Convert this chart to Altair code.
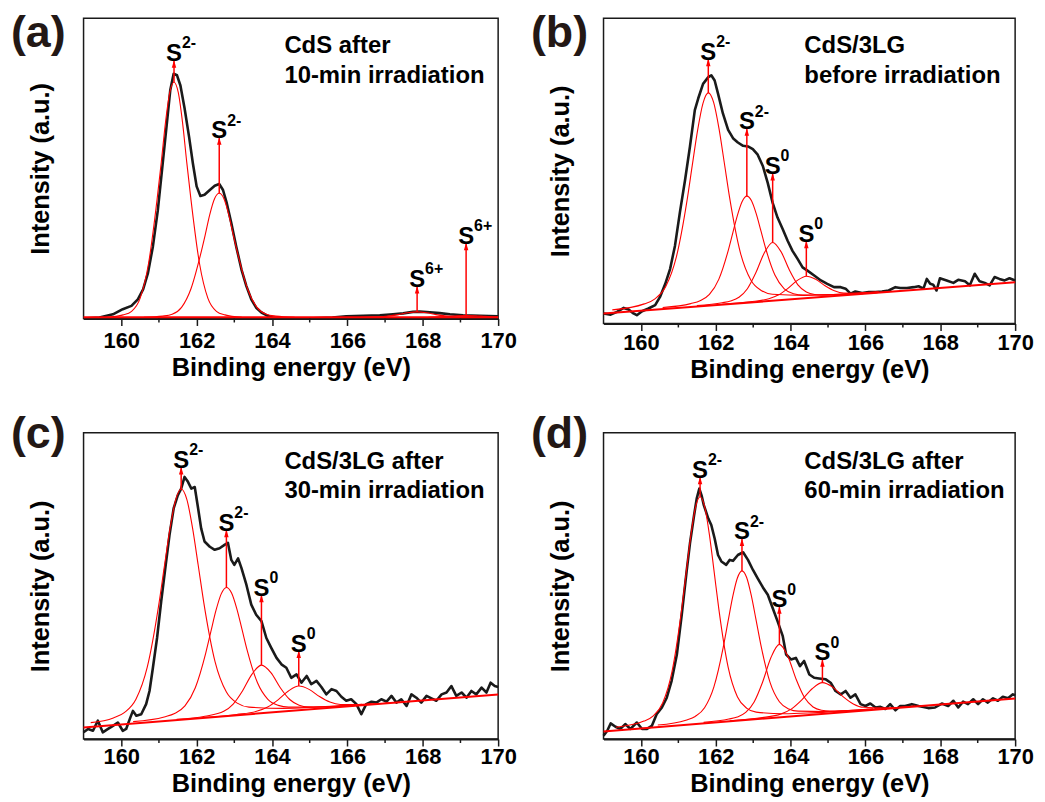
import altair as alt
import pandas as pd

FONT = "Liberation Sans"
RED = "#ff0000"
INK = "#1a1a1a"
TAGC = "#231815"

x_domain = [159, 170]
x_major = [160, 162, 164, 166, 168, 170]
x_minor = [161, 163, 165, 167, 169]

# ---------------- panel (a) ----------------
a_meas_x = [159.0, 159.42, 159.78, 160.04, 160.27, 160.44, 160.58, 160.71, 160.84, 160.97, 161.1, 161.21, 161.3,
            161.39, 161.48, 161.57, 161.68, 161.8, 161.9, 162.0, 162.1, 162.21, 162.35, 162.48, 162.6, 162.7, 162.8,
            162.92, 163.05, 163.19, 163.32, 163.45, 163.58, 163.72, 163.85, 164.03, 164.2, 165.09, 165.6, 165.97,
            166.42, 166.86, 167.21, 167.48, 167.74, 167.92, 168.19, 168.45, 168.72, 169.07, 169.51, 170.0]
a_meas_y = [0.0, 0.3, 1.4, 3.1, 4.2, 6.4, 9.7, 15.2, 24.0, 36.0, 51.7, 65.0, 76.0, 81.5, 81.0, 77.6, 70.0, 60.5, 51.7,
            44.0, 40.8, 41.2, 42.8, 44.2, 44.8, 42.8, 38.4, 31.8, 24.0, 16.3, 10.8, 6.4, 3.6, 2.0, 1.1, 0.3, 0.1, 0.1,
            0.3, 0.7, 0.9, 1.1, 1.4, 1.7, 2.2, 2.3, 2.1, 1.8, 1.4, 1.1, 0.9, 0.7]
a_p1_x = [159.60, 160.05, 160.275, 160.50, 160.725, 160.95, 161.0625, 161.175, 161.2875, 161.40, 161.5125, 161.625,
          161.7375, 161.85, 162.075, 162.30, 162.525, 162.75, 163.20]
a_p1_y = [0.4, 1.2, 2.4, 6.7, 18.4, 39.6, 52.1, 65.4, 75.3, 78.7, 75.3, 65.4, 52.1, 39.6, 18.4, 6.7, 2.4, 1.2, 0.4]
a_p2_x = [160.60, 161.10, 161.35, 161.60, 161.85, 162.10, 162.225, 162.35, 162.475, 162.60, 162.725, 162.85, 162.975,
          163.10, 163.35, 163.60, 163.85, 164.10, 164.60]
a_p2_y = [0.4, 0.8, 1.4, 3.7, 9.9, 21.1, 27.7, 34.7, 39.9, 41.7, 39.9, 34.7, 27.7, 21.1, 9.9, 3.7, 1.4, 0.8, 0.4]
a_p3_x = [166.35, 166.85, 167.35, 167.6, 167.85, 168.1, 168.35, 168.85, 169.35]
a_p3_y = [0.42, 0.55, 1.3, 1.9, 2.2, 1.9, 1.3, 0.55, 0.42]
a_p4_x = [168.15, 168.65, 168.9, 169.15, 169.4, 169.65, 170.0]
a_p4_y = [0.4, 0.7, 0.9, 1.0, 0.9, 0.7, 0.45]
a_base_x = [159.0, 170.0]
a_base_y = [0.4, 0.4]
a_arrow_x = [161.40, 162.60, 167.85, 169.15]
a_arrow_from = [78.7, 41.7, 2.2, 1.0]
a_arrow_tip = [86.0, 60.3, 10.8, 25.2]
a_arrow_sup = ["2-", "2-", "6+", "6+"]
a_note = ["CdS after", "10-min irradiation"]

# ---------------- panel (b) ----------------
b_meas_x = [159.0, 159.19, 159.36, 159.54, 159.67, 159.8, 159.89, 160.03, 160.2, 160.38, 160.51, 160.65, 160.78,
            160.91, 161.04, 161.18, 161.31, 161.44, 161.53, 161.66, 161.8, 161.88, 161.97, 162.06, 162.19, 162.33,
            162.46, 162.59, 162.73, 162.86, 162.99, 163.12, 163.26, 163.39, 163.52, 163.65, 163.79, 163.92, 164.05,
            164.19, 164.32, 164.45, 164.63, 164.81, 164.98, 165.16, 165.34, 165.47, 165.6, 165.73, 165.91, 166.09,
            166.27, 166.44, 166.62, 166.8, 166.93, 167.11, 167.29, 167.42, 167.55, 167.64, 167.73, 167.81, 167.9,
            167.99, 168.17, 168.35, 168.48, 168.66, 168.79, 168.92, 169.05, 169.19, 169.32, 169.45, 169.58, 169.72,
            169.85, 170.0]
b_meas_y = [3.3, 2.9, 3.8, 5.1, 4.6, 3.3, 2.7, 4.0, 4.9, 6.0, 8.7, 13.0, 17.9, 25.5, 36.3, 47.1, 58.0, 69.9, 73.7,
            78.5, 80.7, 81.3, 79.6, 75.3, 68.8, 63.4, 60.7, 59.3, 58.2, 58.0, 57.1, 55.3, 51.5, 46.0, 39.5, 34.7, 30.9,
            27.1, 23.8, 21.1, 18.4, 17.3, 15.7, 14.1, 13.0, 11.9, 11.9, 11.4, 9.8, 10.5, 10.0, 10.3, 10.3, 10.5, 10.8,
            11.9, 11.6, 11.6, 11.9, 12.2, 11.4, 14.6, 13.0, 12.7, 10.8, 14.8, 14.1, 13.3, 14.3, 13.8, 12.5, 16.3, 13.8,
            13.3, 12.5, 15.2, 14.6, 14.1, 14.8, 14.1]
b_p1_x = [159.235, 160.09, 160.375, 160.66, 160.945, 161.23, 161.3725, 161.515, 161.6575, 161.80, 161.9425, 162.085,
          162.2275, 162.37, 162.655, 162.94, 163.225, 163.51, 164.365, 165.22, 166.36]
b_p1_y = [4.45, 6.42, 8.08, 12.04, 21.72, 40.17, 51.88, 63.37, 72.14, 75.55, 72.41, 63.90, 52.67, 41.23, 23.31, 14.16,
          10.73, 9.60, 9.22, 9.59, 10.35]
b_p2_x = [160.58, 161.33, 161.58, 161.83, 162.08, 162.33, 162.455, 162.58, 162.705, 162.83, 162.955, 163.08, 163.205,
          163.33, 163.58, 163.83, 164.08, 164.33, 165.08, 166.33]
b_p2_y = [5.21, 6.50, 7.43, 9.51, 14.45, 23.80, 29.70, 35.51, 39.96, 41.71, 40.19, 35.97, 30.40, 24.73, 15.85, 11.37,
          9.75, 9.29, 9.39, 10.30]
b_p3_x = [161.495, 162.17, 162.395, 162.62, 162.845, 163.07, 163.295, 163.52, 163.745, 163.97, 164.195, 164.42,
          164.645, 164.87, 165.545, 166.22]
b_p3_y = [5.84, 6.79, 7.38, 8.61, 11.39, 16.59, 23.07, 26.55, 23.49, 17.42, 12.64, 10.28, 9.47, 9.30, 9.61, 10.11]
b_p4_x = [162.17, 162.92, 163.42, 163.67, 163.92, 164.17, 164.42, 164.67, 164.92, 165.17, 165.42, 165.92, 166.67]
b_p4_y = [6.30, 7.12, 8.11, 9.31, 11.43, 14.03, 15.49, 14.49, 12.36, 10.71, 9.97, 9.91, 10.48]
b_base_x = [159.0, 170.0]
b_base_y = [3.25, 13.48]
b_arrow_x = [161.80, 162.83, 163.52, 164.42]
b_arrow_from = [75.5, 41.7, 26.5, 15.5]
b_arrow_tip = [86.7, 63.9, 49.3, 27.1]
b_arrow_sup = ["2-", "2-", "0", "0"]
b_note = ["CdS/3LG", "before irradiation"]

# ---------------- panel (c) ----------------
c_meas_x = [159.0, 159.12, 159.25, 159.38, 159.51, 159.65, 159.78, 159.91, 160.04, 160.13,
            160.24, 160.31, 160.4, 160.53, 160.66, 160.75, 160.84, 160.95, 161.06, 161.18,
            161.28, 161.39, 161.5, 161.59, 161.68, 161.77, 161.86, 161.95, 162.04, 162.12,
            162.21, 162.35, 162.48, 162.61, 162.74, 162.83, 162.92, 163.0, 163.1, 163.19,
            163.32, 163.45, 163.58, 163.72, 163.85, 163.98, 164.12, 164.25, 164.38, 164.51,
            164.65, 164.78, 164.92, 165.04, 165.18, 165.31, 165.44, 165.58, 165.71, 165.84,
            165.97, 166.1, 166.24, 166.37, 166.5, 166.64, 166.77, 166.9, 167.04, 167.17,
            167.3, 167.43, 167.57, 167.7, 167.83, 167.96, 168.1, 168.23, 168.36, 168.5,
            168.63, 168.76, 168.89, 169.03, 169.16, 169.29, 169.42, 169.56, 169.69, 169.8,
            169.91, 170.0]
c_meas_y = [2.2, 3.3, 2.7, 6.0, 2.2, 3.3, 4.3, 5.4, 2.7, 3.3,
            7.0, 9.2, 7.6, 8.1, 11.4, 15.7, 23.3, 33.0, 45.0, 56.9,
            66.6, 75.3, 79.6, 81.8, 85.6, 84.0, 81.8, 82.3, 75.3, 68.8,
            64.5, 62.8, 61.8, 62.3, 63.4, 64.1, 58.5, 56.9, 59.0, 55.8,
            50.4, 43.9, 40.6, 38.5, 33.0, 29.8, 26.5, 24.4, 23.3, 20.0,
            21.1, 18.4, 20.6, 17.9, 19.0, 17.0, 14.6, 16.3, 15.7, 13.8,
            12.5, 13.0, 11.4, 8.1, 11.4, 12.2, 11.9, 13.0, 12.2, 14.1,
            11.9, 13.0, 10.8, 14.6, 13.5, 11.9, 14.1, 13.3, 12.5, 14.6,
            15.2, 17.3, 14.1, 15.2, 13.5, 15.7, 14.6, 16.8, 15.2, 18.4,
            17.3, 17.0]
c_p1_x = [159.19, 159.79, 160.09, 160.39, 160.69, 160.99, 161.14, 161.29, 161.44, 161.59, 161.74, 161.89, 162.04,
          162.19, 162.49, 162.79, 163.09, 163.39, 164.29, 165.19, 166.39]
c_p1_y = [5.35, 6.90, 8.71, 12.99, 23.46, 43.40, 56.05, 68.46, 77.95, 81.64, 78.25, 69.05, 56.93, 44.58, 25.22, 15.34,
          11.65, 10.43, 10.03, 10.47, 11.34]
c_p2_x = [160.315, 161.14, 161.415, 161.69, 161.965, 162.24, 162.3775, 162.515, 162.6525, 162.79, 162.9275, 163.065,
          163.2025, 163.34, 163.615, 163.89, 164.165, 164.44, 165.265, 166.64]
c_p2_y = [5.68, 7.20, 8.31, 10.81, 16.75, 27.98, 35.08, 42.07, 47.41, 49.51, 47.68, 42.60, 35.89, 29.05, 18.36, 12.96,
          11.00, 10.43, 10.53, 11.59]
c_p3_x = [161.47, 162.22, 162.72, 162.97, 163.22, 163.47, 163.72, 163.97, 164.22, 164.47, 164.72, 164.97, 165.22,
          165.97, 166.72]
c_p3_y = [6.44, 7.45, 9.08, 11.44, 15.79, 21.20, 24.13, 21.69, 16.77, 12.91, 11.04, 10.45, 10.39, 10.85, 11.50]
c_p4_x = [162.235, 163.06, 163.61, 163.885, 164.16, 164.435, 164.71, 164.985, 165.26, 165.535, 165.81, 166.36, 167.185]
c_p4_y = [7.08, 8.02, 9.14, 10.48, 12.81, 15.68, 17.30, 16.22, 13.88, 12.09, 11.29, 11.25, 11.93]
c_base_x = [159.0, 170.0]
c_base_y = [3.8, 14.58]
c_arrow_x = [161.59, 162.79, 163.72, 164.71]
c_arrow_from = [81.6, 49.5, 24.2, 17.3]
c_arrow_tip = [88.8, 68.3, 47.1, 28.9]
c_arrow_sup = ["2-", "2-", "0", "0"]
c_note = ["CdS/3LG after", "30-min irradiation"]

# ---------------- panel (d) ----------------
d_meas_x = [159.0, 159.1, 159.19, 159.32, 159.45, 159.58, 159.72, 159.89, 160.03, 160.16,
            160.29, 160.42, 160.56, 160.69, 160.82, 160.96, 161.09, 161.22, 161.31, 161.42,
            161.49, 161.56, 161.62, 161.68, 161.8, 161.88, 161.97, 162.06, 162.15, 162.28,
            162.37, 162.46, 162.59, 162.73, 162.86, 162.99, 163.12, 163.26, 163.39, 163.52,
            163.65, 163.79, 163.88, 164.01, 164.14, 164.25, 164.36, 164.5, 164.63, 164.76,
            164.94, 165.07, 165.2, 165.34, 165.47, 165.6, 165.73, 165.87, 166.0, 166.13,
            166.27, 166.4, 166.53, 166.66, 166.8, 166.93, 167.06, 167.24, 167.42, 167.55,
            167.68, 167.86, 168.04, 168.21, 168.35, 168.48, 168.61, 168.74, 168.88, 169.01,
            169.14, 169.27, 169.41, 169.54, 169.67, 169.81, 169.94, 170.0]
d_meas_y = [1.1, 2.7, 5.1, 4.0, 3.3, 4.9, 3.3, 5.4, 3.3, 3.3,
            4.3, 8.1, 10.3, 13.5, 19.0, 27.6, 40.6, 54.7, 63.9, 73.1,
            78.5, 81.8, 79.6, 76.4, 72.0, 69.9, 65.5, 60.1, 58.0, 56.9,
            58.5, 58.2, 60.1, 61.0, 58.5, 55.3, 52.5, 49.5, 47.1, 42.8,
            38.5, 33.6, 27.6, 26.0, 26.5, 23.8, 25.5, 21.1, 20.0, 19.8,
            19.5, 18.4, 15.7, 14.6, 15.7, 13.5, 14.6, 11.4, 10.8, 11.6,
            10.3, 10.5, 9.8, 11.4, 9.4, 10.8, 10.8, 11.4, 10.8, 10.5,
            10.1, 10.3, 11.6, 10.8, 12.5, 10.3, 12.2, 11.4, 13.0, 11.4,
            13.0, 11.9, 13.3, 12.5, 13.8, 13.3, 14.6, 14.3]
d_p1_x = [159.33, 160.08, 160.33, 160.58, 160.83, 161.08, 161.205, 161.33, 161.455, 161.58, 161.705, 161.83, 161.955,
          162.08, 162.33, 162.58, 162.83, 163.08, 163.83, 164.58, 166.08]
d_p1_y = [3.86, 5.86, 7.58, 11.76, 22.00, 41.59, 54.01, 66.21, 75.53, 79.13, 75.77, 66.70, 54.75, 42.57, 23.47, 13.72,
          10.03, 8.80, 8.27, 8.56, 9.69]
d_p2_x = [160.45, 161.20, 161.45, 161.70, 161.95, 162.20, 162.325, 162.45, 162.575, 162.70, 162.825, 162.95, 163.075,
          163.20, 163.45, 163.70, 163.95, 164.20, 164.95, 166.20]
d_p2_y = [4.60, 6.17, 7.39, 10.23, 17.05, 30.04, 38.26, 46.34, 52.51, 54.93, 52.76, 46.83, 38.99, 31.02, 18.52, 12.19,
          9.84, 9.11, 9.01, 9.86]
d_p3_x = [161.675, 162.35, 162.575, 162.80, 163.025, 163.25, 163.475, 163.70, 163.925, 164.15, 164.375, 164.60,
          164.825, 165.05, 165.725, 166.40]
d_p3_y = [5.45, 6.52, 7.21, 8.70, 12.13, 18.57, 26.62, 30.91, 27.06, 19.45, 13.46, 10.47, 9.42, 9.17, 9.42, 9.94]
d_p4_x = [162.375, 163.20, 163.75, 164.025, 164.30, 164.575, 164.85, 165.125, 165.40, 165.675, 165.95, 166.50, 167.325]
d_p4_y = [5.95, 6.94, 8.22, 9.86, 12.79, 16.42, 18.43, 16.96, 13.87, 11.48, 10.37, 10.17, 10.80]
d_base_x = [159.0, 170.0]
d_base_y = [2.5, 13.28]
d_arrow_x = [161.58, 162.70, 163.70, 164.85]
d_arrow_from = [79.1, 54.9, 30.9, 18.4]
d_arrow_tip = [85.6, 65.5, 43.3, 26.0]
d_arrow_sup = ["2-", "2-", "0", "0"]
d_note = ["CdS/3LG after", "60-min irradiation"]


def xy(xs, ys, **extra):
    if len(xs) != len(ys):
        raise ValueError("length mismatch %d vs %d" % (len(xs), len(ys)))
    df = pd.DataFrame({"x": xs, "y": ys})
    for k, v in extra.items():
        df[k] = v
    return df


def panel(tag, meas, comps, base, arrows, note, w, h, tag_y, note_y, lab_pad):
    xsc = alt.Scale(domain=x_domain, nice=False, zero=False)
    ysc = alt.Scale(domain=[0, 100], nice=False, zero=False)
    xax = alt.Axis(values=x_major, format="d", title="Binding energy (eV)", grid=False, labelPadding=lab_pad)
    yax = alt.Axis(title="Intensity (a.u.)", labels=False, ticks=False, domain=False, grid=False, titlePadding=30)
    X = alt.X("x:Q", scale=xsc, axis=xax)
    Y = alt.Y("y:Q", scale=ysc, axis=yax)
    YT = alt.Y("tip:Q", scale=ysc, axis=yax)

    meas_df = xy(*meas)
    comp_df = pd.concat([xy(cx, cy, comp="p%d" % i) for i, (cx, cy) in enumerate(comps)], ignore_index=True)
    base_df = xy(*base)
    ax, afrom, atip, asup = arrows
    arr_df = pd.DataFrame({"x": ax, "y": afrom, "tip": atip, "main": ["S"] * len(ax), "sup": asup})
    minor_df = pd.DataFrame({"x": x_minor})
    one = pd.DataFrame({"k": [0]})

    measured = alt.Chart(meas_df).mark_line(color=INK, strokeWidth=2.6, strokeJoin="round").encode(x=X, y=Y)
    comp_lines = alt.Chart(comp_df).mark_line(color=RED, strokeWidth=1.1, interpolate="monotone").encode(
        x=X, y=Y, detail="comp:N")
    baseline = alt.Chart(base_df).mark_line(color=RED, strokeWidth=2).encode(x=X, y=Y)
    stems = alt.Chart(arr_df).mark_rule(color=RED, strokeWidth=1.5).encode(
        x=X, y=Y, y2=alt.Y2("tip:Q"))
    heads = alt.Chart(arr_df).mark_point(
        shape="M0,-1L0.6,1L-0.6,1Z", filled=True, size=56, color=RED, opacity=1, strokeWidth=0, yOffset=3.7
    ).encode(x=X, y=YT)
    s_main = alt.Chart(arr_df).mark_text(
        font=FONT, fontSize=24, fontWeight="bold", color="black", align="center", baseline="alphabetic", dy=1
    ).encode(x=X, y=YT, text="main:N")
    s_sup = alt.Chart(arr_df).mark_text(
        font=FONT, fontSize=16, fontWeight="bold", color="black", align="left", baseline="alphabetic", dx=8, dy=-12
    ).encode(x=X, y=YT, text="sup:N")
    minor = alt.Chart(minor_df).mark_rule(color=INK, strokeWidth=1.5).encode(
        x=X, y=alt.value(h), y2=alt.value(h + 4))
    note1 = alt.Chart(one).mark_text(
        font=FONT, fontSize=24, fontWeight="bold", color="black", align="left", baseline="alphabetic"
    ).encode(x=alt.value(202), y=alt.value(note_y), text=alt.value(note[0]))
    note2 = alt.Chart(one).mark_text(
        font=FONT, fontSize=24, fontWeight="bold", color="black", align="left", baseline="alphabetic"
    ).encode(x=alt.value(202), y=alt.value(note_y + 30), text=alt.value(note[1]))
    tag_txt = alt.Chart(one).mark_text(
        font=FONT, fontSize=45, fontWeight="bold", color=TAGC, align="left", baseline="alphabetic"
    ).encode(x=alt.value(-73), y=alt.value(tag_y), text=alt.value(tag))

    return alt.layer(measured, comp_lines, baseline, stems, heads, minor, s_main, s_sup, note1, note2,
                     tag_txt).properties(width=w, height=h)


pa = panel("(a)", (a_meas_x, a_meas_y), [(a_p1_x, a_p1_y), (a_p2_x, a_p2_y), (a_p3_x, a_p3_y), (a_p4_x, a_p4_y)],
           (a_base_x, a_base_y), (a_arrow_x, a_arrow_from, a_arrow_tip, a_arrow_sup), a_note, 417, 302, 29, 35, 5)
pb = panel("(b)", (b_meas_x, b_meas_y), [(b_p1_x, b_p1_y), (b_p2_x, b_p2_y), (b_p3_x, b_p3_y), (b_p4_x, b_p4_y)],
           (b_base_x, b_base_y), (b_arrow_x, b_arrow_from, b_arrow_tip, b_arrow_sup), b_note, 414, 307, 29, 35, 2)
pc = panel("(c)", (c_meas_x, c_meas_y), [(c_p1_x, c_p1_y), (c_p2_x, c_p2_y), (c_p3_x, c_p3_y), (c_p4_x, c_p4_y)],
           (c_base_x, c_base_y), (c_arrow_x, c_arrow_from, c_arrow_tip, c_arrow_sup), c_note, 417, 308, 15, 36, 1)
pd_ = panel("(d)", (d_meas_x, d_meas_y), [(d_p1_x, d_p1_y), (d_p2_x, d_p2_y), (d_p3_x, d_p3_y), (d_p4_x, d_p4_y)],
            (d_base_x, d_base_y), (d_arrow_x, d_arrow_from, d_arrow_tip, d_arrow_sup), d_note, 414, 308, 15, 36, 1)

chart = alt.concat(
    pa, pb, pc, pd_, columns=2, spacing={"row": 110, "column": 106}, bounds="flush"
).properties(
    padding={"left": 2, "top": 0, "right": 2, "bottom": 0}, background="white"
).configure_view(
    stroke=INK, strokeWidth=1.5
).configure_axis(
    labelFont=FONT, titleFont=FONT, labelFontSize=22, labelFontWeight="bold", labelColor="black",
    titleFontSize=25.5, titleFontWeight="bold", titleColor="black", domainColor=INK, tickColor=INK, grid=False
).configure_axisX(
    domainWidth=2, tickWidth=1.5, tickSize=7, titlePadding=4, labelFlush=False
)

chart.save("out.html", embed_options={"renderer": "svg", "actions": False})
